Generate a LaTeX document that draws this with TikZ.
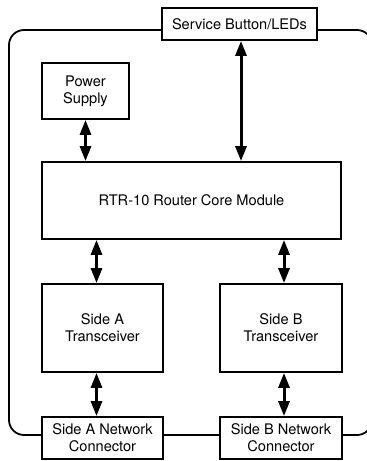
\documentclass[tikz,border=0pt]{standalone}
\usepackage{fontspec}
\setmainfont{TeX Gyre Heros}
\usetikzlibrary{arrows.meta}
\tikzstyle{module} = [rectangle, draw=black, line width=1.8pt, fill=white, inner sep=0pt, align=center, font=\fontsize{14.6pt}{17pt}\selectfont]
\tikzstyle{arrow} = [line width=3pt, {Triangle[width=11pt,length=15pt]}-{Triangle[width=11pt,length=15pt]}]
\tikzstyle{bus} = [line width=1.8pt, rounded corners=15pt]

\begin{document}
\begin{tikzpicture}[x=1pt, y=-1pt]
        \useasboundingbox (0,0) rectangle (367,461);
        \clip (0,0) rectangle (367,461);
        \node (core) [module, minimum width=299pt, minimum height=77pt] at (191.5,200.5) {RTR-10 Router Core Module};
        \node (power) [module, node distance=109.5pt, above of=core, xshift=-106pt, minimum width=87pt, minimum height=56pt] {Power\\Supply};
        \node (service) [module, node distance=176.5pt, above of=core, xshift=48pt, minimum width=155pt, minimum height=32pt] {Service Button/LEDs};
        \node (sideA) [module, node distance=127.5pt, below of=core, xshift=-89pt, minimum width=121pt, minimum height=88pt] {Side A\\Transceiver};
        \node (sideB) [module, node distance=178.5pt, right of=sideA, minimum width=122pt, minimum height=88pt] {Side B\\Transceiver};
        \node (netA) [module, node distance=110pt, below of=sideA, minimum width=121pt, minimum height=42pt] {Side A Network\\Connector};
        \node (netB) [module, node distance=110pt, below of=sideB, minimum width=122pt, minimum height=42pt] {Side B Network\\Connector};
        \coordinate (busL) at (9,250);
        \coordinate (busR) at (372,250);

        \draw [bus] ([yshift=-6pt]service.west) -| (busL) |- ([yshift=3pt]netA.west);
        \draw [bus] ([yshift=-6pt]service.east) -| (busR) |- ([yshift=3pt]netB.east);
        \draw [bus] ([yshift=3pt]netA.east) -- ([yshift=3pt]netB.west);

        \draw [arrow] (power.south) -- (power.south |- core.north);
        \draw [arrow] ([xshift=1.5pt]service.south) -- ([xshift=1.5pt]service.south |- core.north);
        \draw [arrow] ([xshift=-6pt]sideA.north) -- ([xshift=-6pt]sideA.north |- core.south);
        \draw [arrow] ([xshift=3pt]sideB.north) -- ([xshift=3pt]sideB.north |- core.south);
        \draw [arrow] ([xshift=-6pt]netA.north) -- ([xshift=-6pt]sideA.south);
        \draw [arrow] ([xshift=3pt]netB.north) -- ([xshift=3pt]sideB.south);
    \end{tikzpicture}
\end{document}
